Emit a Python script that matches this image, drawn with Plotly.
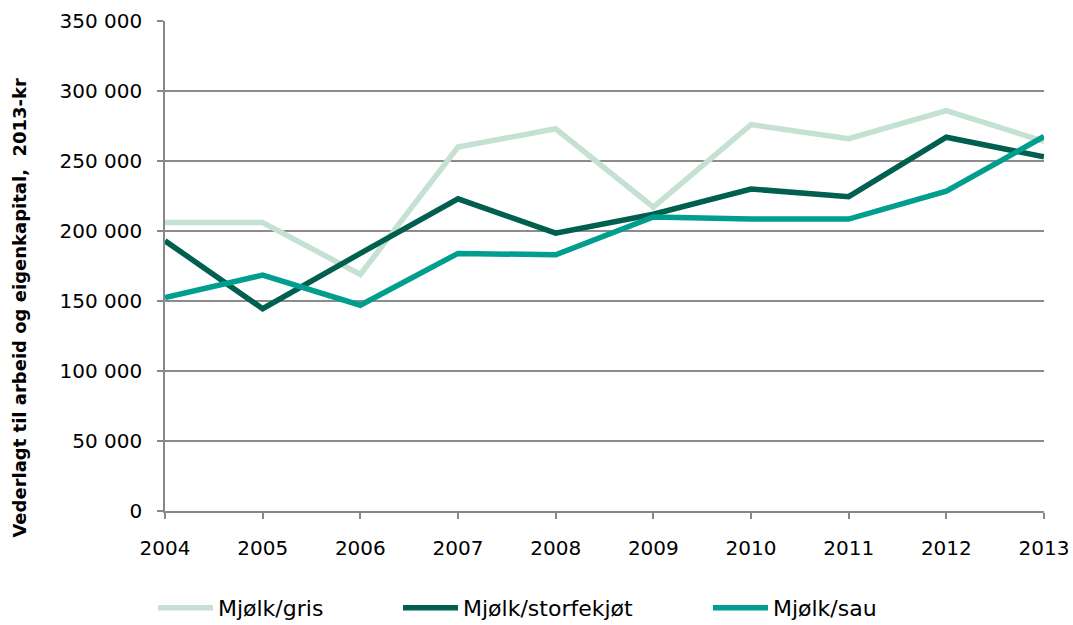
import plotly.graph_objects as go

years = [2004, 2005, 2006, 2007, 2008, 2009, 2010, 2011, 2012, 2013]
gris = [206000, 206000, 169000, 260000, 273000, 217000, 276000, 266000, 286000, 264000]
storfekjot = [193000, 144500, 184000, 223000, 198500, 212000, 230000, 224500, 267000, 253000]
sau = [152500, 168500, 147000, 184000, 183000, 210000, 208500, 208500, 228500, 267500]

series_names = ["Mjølk/gris", "Mjølk/storfekjøt", "Mjølk/sau"]
series_colors = ["#C4E1D2", "#005F4F", "#009E8E"]

y_tickvals = [0, 50000, 100000, 150000, 200000, 250000, 300000, 350000]
y_ticktext = ["0", "50 000", "100 000", "150 000", "200 000", "250 000", "300 000", "350 000"]
y_title = "Vederlagt til arbeid og eigenkapital,  2013-kr"

FONT = "DejaVu Sans"
legend_ids = ["legend", "legend2", "legend3"]
legend_x = [-0.0137, 0.2651, 0.6177]

fig = go.Figure()
for name, vals, col, lid in zip(series_names, [gris, storfekjot, sau], series_colors, legend_ids):
    fig.add_trace(go.Scatter(x=years, y=vals, name=name, mode="lines",
                             line=dict(color=col, width=5.5), legend=lid))

leg_common = dict(orientation="h", xanchor="left", y=-0.198, yanchor="middle",
                  font=dict(family=FONT, size=22, color="black"), itemwidth=55,
                  bgcolor="rgba(0,0,0,0)")
layout_legends = {lid: dict(leg_common, x=lx) for lid, lx in zip(legend_ids, legend_x)}

fig.update_layout(
    width=1073, height=625,
    margin=dict(l=165, r=29, t=21, b=114, autoexpand=False),
    plot_bgcolor="white", paper_bgcolor="white",
    font=dict(family=FONT, size=20, color="black"),
    showlegend=True,
    **layout_legends,
)
fig.update_xaxes(
    range=[2004, 2013], tickvals=years, ticktext=[str(y) for y in years],
    showgrid=False, showline=True, linecolor="#888888", linewidth=1.5,
    ticks="outside", ticklen=6, tickcolor="#888888", tickwidth=1.5,
    tickfont=dict(family=FONT, size=20), zeroline=False,
    automargin=False, ticklabelstandoff=12,
)
fig.update_yaxes(
    range=[0, 350000], tickvals=y_tickvals, ticktext=y_ticktext,
    showgrid=True, gridcolor="#8c8c8c", gridwidth=1.5,
    showline=True, linecolor="#888888", linewidth=1.5,
    ticks="outside", ticklen=6, tickcolor="#888888", tickwidth=1.5,
    tickfont=dict(family=FONT, size=20), zeroline=False,
    automargin=False, ticklabelstandoff=11,
)
fig.add_annotation(
    text="<b>" + y_title + "</b>", textangle=-90,
    xref="paper", yref="paper", x=-0.165, y=0.415,
    xanchor="center", yanchor="middle", showarrow=False,
    font=dict(family=FONT, size=18, color="black"),
)

fig.write_html(
    "out.html",
    config={"displayModeBar": False},
    post_script="document.body.style.margin='0';document.body.style.overflow='hidden';",
)
